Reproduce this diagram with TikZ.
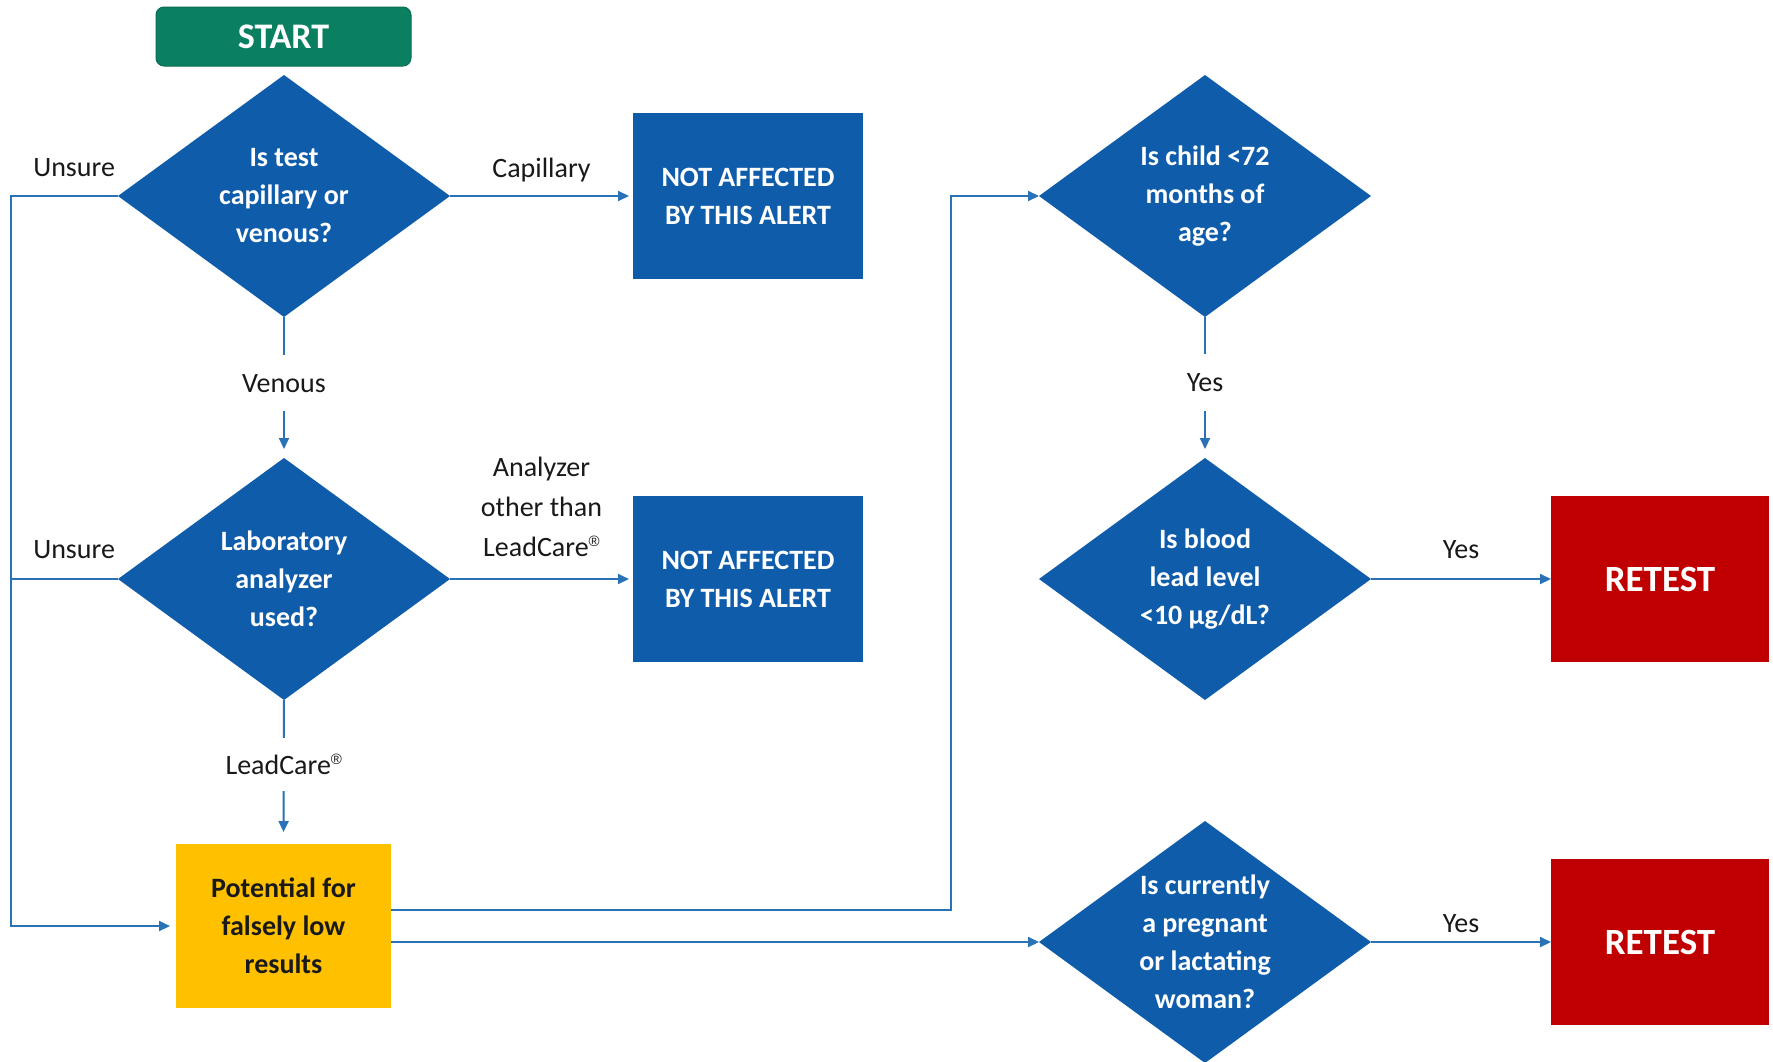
\documentclass[tikz,border=0pt]{standalone}
\usepackage{fontspec}
\setmainfont{Carlito}
\newfontfamily\regfont{Liberation Sans}
\usetikzlibrary{shapes.geometric,arrows.meta}
\definecolor{dblue}{HTML}{0F5CAB}
\definecolor{lblue}{HTML}{2A72B8}
\definecolor{sgreen}{HTML}{0A8060}
\definecolor{ryel}{HTML}{FFC000}
\definecolor{rred}{HTML}{C00000}
\newcommand{\regmark}{\raisebox{0.36em}{\regfont\fontsize{15}{15}\selectfont ®}}
\tikzset{
  dia/.style={diamond, aspect=1.378, minimum width=332pt, minimum height=242pt, inner sep=0pt, outer sep=0pt,
    fill=dblue, text=white, font=\bfseries\fontsize{28}{38}\selectfont, align=center},
  bluebox/.style={rectangle, minimum width=230pt, minimum height=166pt, inner sep=0pt, outer sep=0pt,
    fill=dblue, text=white, font=\bfseries\fontsize{28}{38}\selectfont, align=center},
  redbox/.style={rectangle, minimum width=218pt, minimum height=166pt, inner sep=0pt, outer sep=0pt,
    fill=rred, text=white, font=\bfseries\fontsize{37}{44}\selectfont, align=center},
  yelbox/.style={rectangle, minimum width=215pt, minimum height=164pt, inner sep=0pt, outer sep=0pt,
    fill=ryel, text=black!90, font=\bfseries\fontsize{28}{38}\selectfont, align=center},
  startbox/.style={rectangle, rounded corners=8pt, minimum width=255pt, minimum height=59pt, inner sep=0pt,
    fill=sgreen, draw=sgreen!85!black, line width=1pt, text=white, font=\bfseries\fontsize{36}{40}\selectfont},
  conn/.style={draw=lblue, line width=2pt},
  arr/.style={conn, -{Triangle[length=11pt,width=10pt]}},
  lbl/.style={font=\fontsize{28}{40}\selectfont, text=black!90}
}
\begin{document}
\begin{tikzpicture}[x=1pt,y=-1pt]
\fill[white] (0,0) rectangle (1773,1061);
\useasboundingbox (0,0) rectangle (1773,1061);

\node[startbox] (start) at (283.5,36.5) {START};
\node[dia] (d1) at (284,196) {Is test\\capillary or\\venous?};
\node[dia] (d2) at (284,579) {Laboratory\\analyzer\\used?};
\node[bluebox] (na1) at (748,196) {NOT AFFECTED\\BY THIS ALERT};
\node[bluebox] (na2) at (748,579) {NOT AFFECTED\\BY THIS ALERT};
\node[yelbox] (res) at (283.5,926) {Potential for\\falsely low\\results};
\node[dia] (d3) at (1205,196) {Is child <72\\months of\\age?};
\node[dia] (d4) at (1205,579) {Is blood\\lead level\\<10 µg/dL?};
\node[dia] (d5) at (1205,942) {Is currently\\a pregnant\\or lactating\\woman?};
\node[redbox] (r1) at (1660,579) {RETEST};
\node[redbox] (r2) at (1660,942) {RETEST};

\coordinate (L) at (11,196);

\draw[arr, shorten >=4pt] (d1.east) -- node[lbl, anchor=base, yshift=19pt]{Capillary} (na1.west);
\draw[arr, shorten >=4pt] (d2.east) -- node[lbl, anchor=south, inner sep=0pt, yshift=21pt, align=center]{Analyzer\\other than\\LeadCare\regmark} (na2.west);
\draw[arr, shorten >=9pt] (d1.south) -- node[lbl, pos=0.47, fill=white, inner xsep=4pt, inner ysep=19pt]{Venous} (d2.north);
\draw[arr, shorten >=12pt] (d2.south) -- node[lbl, pos=0.45, fill=white, inner xsep=4pt, inner ysep=16pt]{LeadCare\regmark} (res.north);
\draw[arr, shorten >=6pt] (d1.west) -- node[lbl, pos=0.41, anchor=base, yshift=20pt]{Unsure} (L) |- (res.west);
\draw[conn] (d2.west) -- node[lbl, pos=0.41, anchor=base, yshift=21pt]{Unsure} (d2.west -| L);
\draw[arr] ([yshift=16pt]res.east) -- ++(560,0) |- (d3.west);
\draw[arr] ([yshift=-16pt]res.east) -- (d5.west);
\draw[arr, shorten >=9pt] (d3.south) -- node[lbl, pos=0.465, fill=white, inner xsep=4pt, inner ysep=19pt]{Yes} (d4.north);
\draw[arr] (d4.east) -- node[lbl, anchor=base, yshift=21pt]{Yes} (r1.west);
\draw[arr] (d5.east) -- node[lbl, anchor=base, yshift=10pt]{Yes} (r2.west);
\end{tikzpicture}
\end{document}
